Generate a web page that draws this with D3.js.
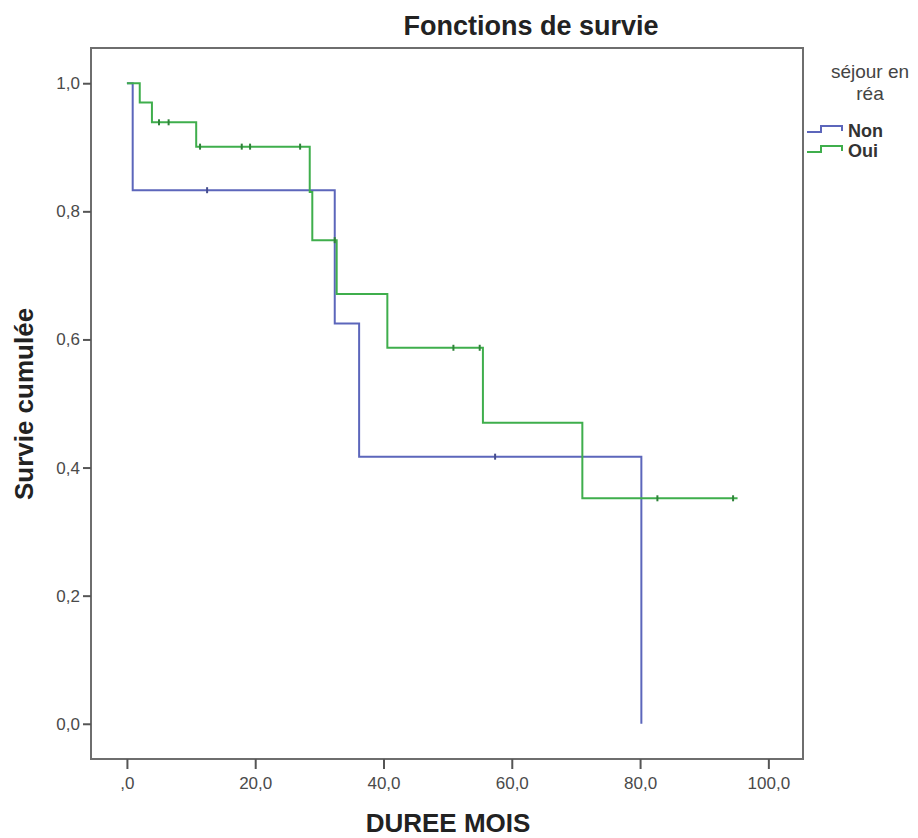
<!DOCTYPE html>
<html>
<head>
<meta charset="utf-8">
<script src="https://cdn.jsdelivr.net/npm/d3@7"></script>
<style>
  body { margin: 0; background: #fff; }
  text { font-family: "Liberation Sans", Arial, sans-serif; }
</style>
</head>
<body>
<svg width="918" height="838"></svg>
<script>
// Kaplan-Meier steps (mois, survie cumulée)
const nonTimes = [0, 0.9, 32.4, 36.2, 80.2];
const nonSurv = [1, 0.833, 0.625, 0.417, 0];
const nonCensorT = [12.5, 57.4];
const nonCensorS = [0.833, 0.417];

const ouiTimes = [0, 2.0, 3.9, 10.8, 28.5, 28.9, 32.7, 40.6, 55.5, 71.0, 95.2];
const ouiSurv = [1, 0.970, 0.939, 0.901, 0.830, 0.755, 0.671, 0.587, 0.470, 0.352, 0.352];
const ouiCensorT = [5.0, 6.5, 11.4, 17.9, 19.2, 27.0, 32.4, 50.9, 55.0, 82.7, 94.5];
const ouiCensorS = [0.939, 0.939, 0.901, 0.901, 0.901, 0.901, 0.755, 0.587, 0.587, 0.352, 0.352];

const xTicks = [0, 20, 40, 60, 80, 100];
const yTicks = [0, 0.2, 0.4, 0.6, 0.8, 1.0];
const groups = ["Non", "Oui"];
const colors = ["#5c66bb", "#3fae4c"];

const svg = d3.select("svg");
const plotL = 91, plotR = 803, plotT = 48, plotB = 759;

const x = d3.scaleLinear().domain([-5.6, 105.4]).range([plotL, plotR]);
const y = d3.scaleLinear().domain([-0.055, 1.055]).range([plotB, plotT]);

const comma = d => d3.format(".1f")(d).replace(".", ",");

// frame
svg.append("rect")
  .attr("x", plotL).attr("y", plotT)
  .attr("width", plotR - plotL).attr("height", plotB - plotT)
  .attr("fill", "#fff").attr("stroke", "#6e6e6e").attr("stroke-width", 2);

// axes
const xAxis = svg.append("g")
  .attr("transform", "translate(0," + plotB + ")")
  .call(d3.axisBottom(x).tickValues(xTicks).tickSize(10).tickPadding(8)
    .tickFormat(d => d === 0 ? ",0" : comma(d)));
const yAxis = svg.append("g")
  .attr("transform", "translate(" + plotL + ",0)")
  .call(d3.axisLeft(y).tickValues(yTicks).tickSize(8).tickPadding(3)
    .tickFormat(comma));

[xAxis, yAxis].forEach(a => {
  a.select(".domain").remove();
  a.selectAll(".tick line").attr("stroke", "#555").attr("stroke-width", 2);
  a.selectAll(".tick text").attr("fill", "#4a4a4a").style("font-size", "17px");
});

// curves
const line = d3.line().x(d => x(d[0])).y(d => y(d[1])).curve(d3.curveStepAfter);
const series = [
  { times: nonTimes, surv: nonSurv, ct: nonCensorT, cs: nonCensorS },
  { times: ouiTimes, surv: ouiSurv, ct: ouiCensorT, cs: ouiCensorS }
];
series.forEach((s, i) => {
  svg.append("path")
    .datum(s.times.map((t, j) => [t, s.surv[j]]))
    .attr("d", line)
    .attr("fill", "none")
    .attr("stroke", colors[i])
    .attr("stroke-width", 2);
  svg.append("g").selectAll("line")
    .data(s.ct.map((t, j) => [t, s.cs[j]]))
    .enter().append("line")
    .attr("x1", d => x(d[0])).attr("x2", d => x(d[0]))
    .attr("y1", d => y(d[1]) - 3).attr("y2", d => y(d[1]) + 3)
    .attr("stroke", d3.color(colors[i]).darker(0.8))
    .attr("stroke-width", 2);
});

// titles
svg.append("text")
  .attr("x", 531).attr("y", 35)
  .attr("text-anchor", "middle")
  .style("font-size", "27px").style("font-weight", "bold").attr("fill", "#222")
  .text("Fonctions de survie");

svg.append("text")
  .attr("x", 448).attr("y", 832)
  .attr("text-anchor", "middle")
  .style("font-size", "26px").style("font-weight", "bold").attr("fill", "#222")
  .text("DUREE MOIS");

svg.append("text")
  .attr("transform", "translate(33,404) rotate(-90)")
  .attr("text-anchor", "middle")
  .style("font-size", "26px").style("font-weight", "bold").attr("fill", "#222")
  .text("Survie cumulée");

// legend
const legend = svg.append("g");
legend.append("text")
  .attr("x", 870).attr("y", 78).attr("text-anchor", "middle")
  .style("font-size", "19px").attr("fill", "#444")
  .text("séjour en");
legend.append("text")
  .attr("x", 870).attr("y", 100).attr("text-anchor", "middle")
  .style("font-size", "19px").attr("fill", "#444")
  .text("réa");

groups.forEach((g, i) => {
  const yy = 132 + i * 20;
  legend.append("path")
    .attr("d", "M807," + yy + "H821V" + (yy - 6) + "H842V" + (yy - 1))
    .attr("fill", "none").attr("stroke", colors[i]).attr("stroke-width", 2);
  legend.append("text")
    .attr("x", 848).attr("y", yy + 5)
    .style("font-size", "18px").style("font-weight", "bold").attr("fill", "#333")
    .text(g);
});
</script>
</body>
</html>
